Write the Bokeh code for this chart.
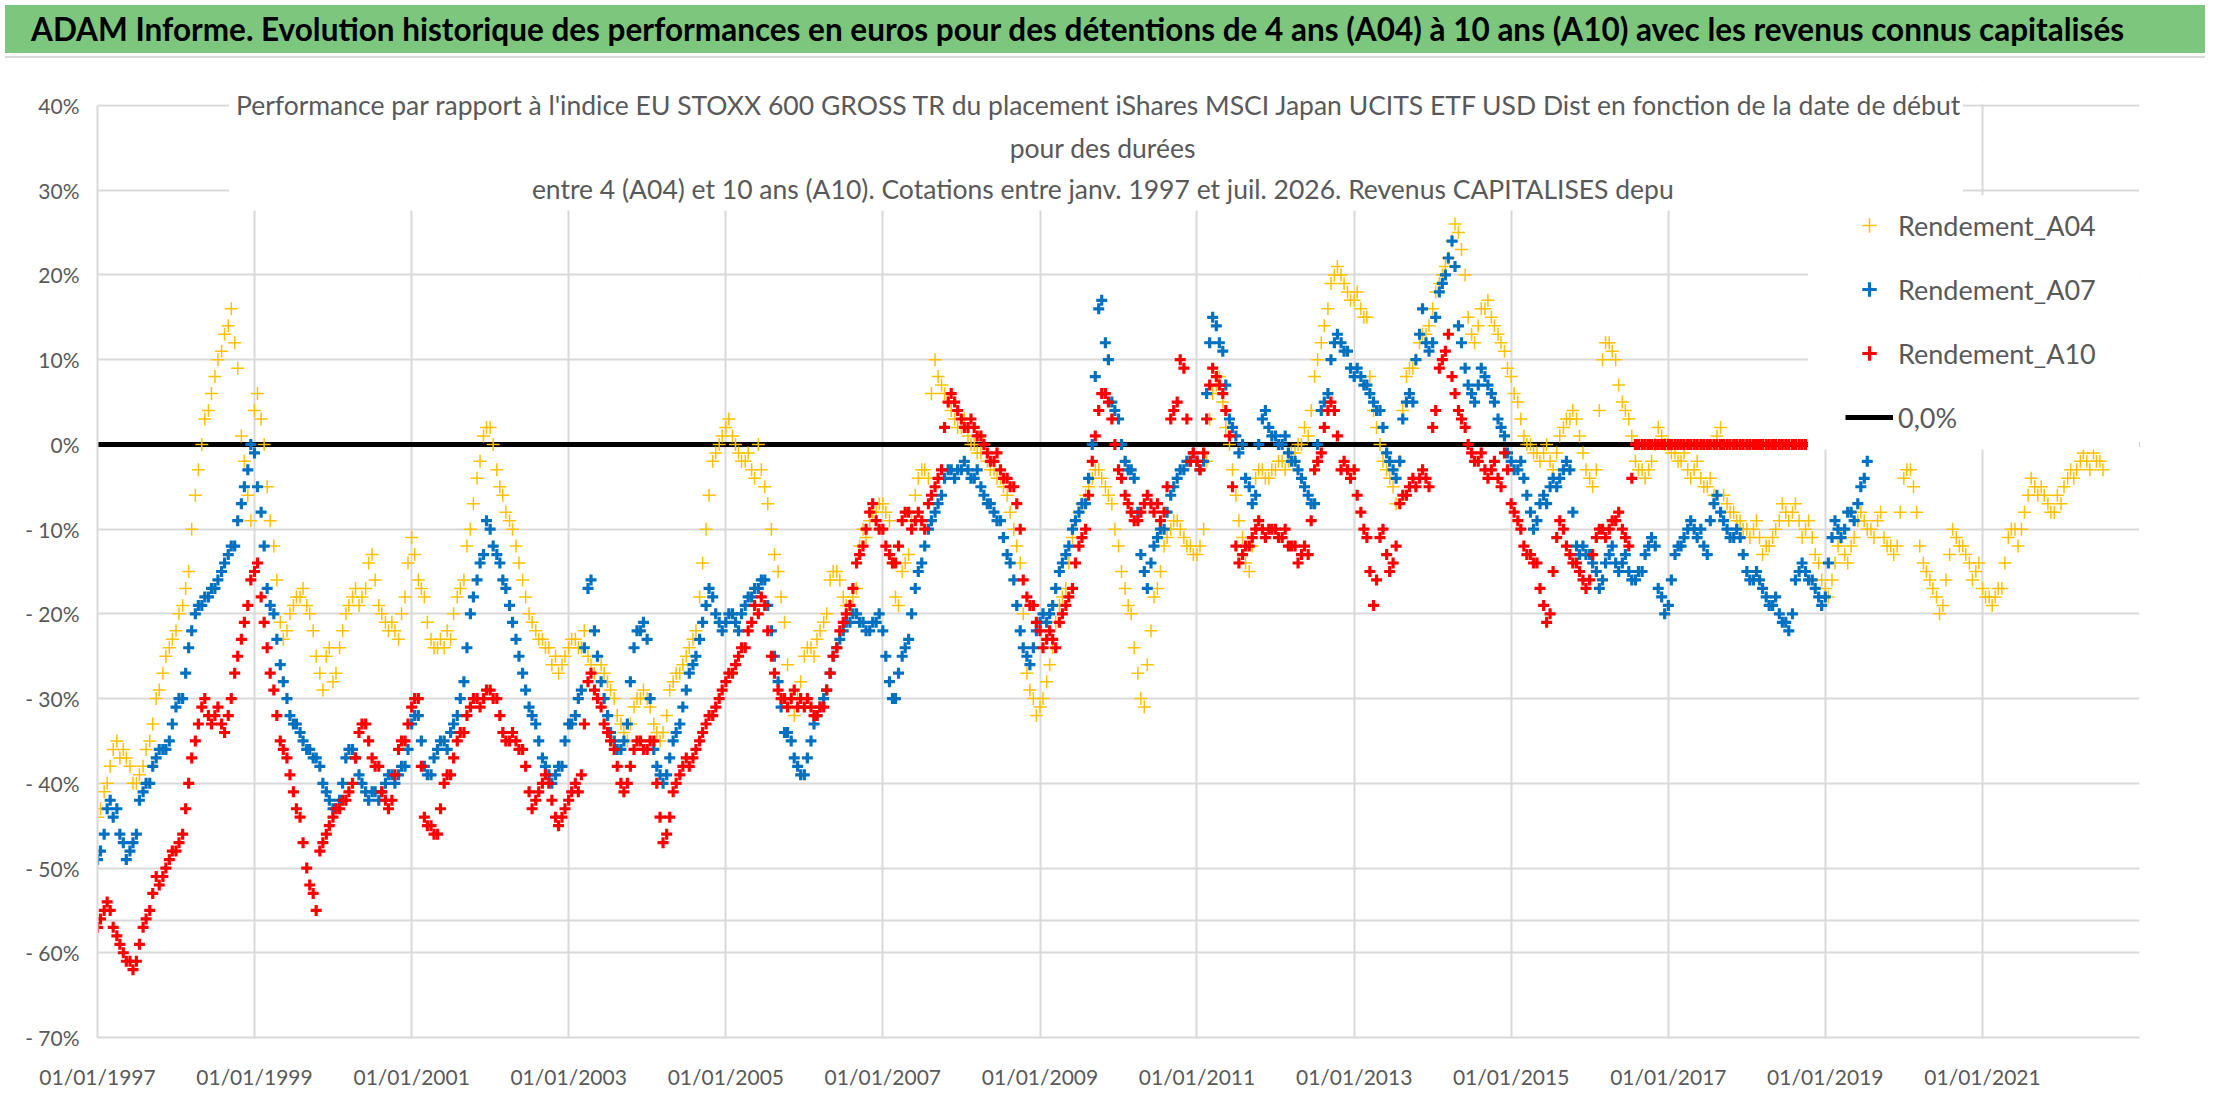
import pandas as pd
from bokeh.plotting import figure
from bokeh.layouts import column
from bokeh.models import (ColumnDataSource, Range1d, FixedTicker, DatetimeTickFormatter,
                          CustomJSTickFormatter, Legend, LegendItem, Label, BoxAnnotation,
                          Span, Div)
from bokeh.embed import file_html
from bokeh.resources import INLINE

main_title = ("ADAM Informe. Evolution historique des performances en euros pour des détentions "
              "de 4 ans (A04) à 10 ans (A10) avec les revenus connus capitalisés")
chart_title = [
    "Performance par rapport à l'indice EU STOXX 600 GROSS TR  du placement iShares MSCI Japan "
    "UCITS ETF USD Dist en fonction de la date de début",
    "pour des durées",
    "entre 4 (A04) et 10 ans (A10). Cotations entre janv. 1997 et juil. 2026. Revenus CAPITALISES depu",
]
series_names = ["Rendement_A04", "Rendement_A07", "Rendement_A10"]
zero_name = "0,0%"

# values in %, read twice a month: on the 1st (a04, ...) and on the 15th (a04_mid, ...)
first_month = "1997-01-01"
a04 = [
    -44, -41, -38, -35, -36, -38, -40, -38, -35, -30, -27, -24,   # 1997
    -22, -19, -15, -6, 0, 4, 8, 11, 14, 12, 1, -6,                # 1998
    4, 3, -5, -12, -21, -22, -19, -18, -19, -22, -27, -25,        # 1999
    -28, -24, -20, -18, -19, -17, -13, -19, -21, -21, -23, -18,   # 2000
    -11, -16, -18, -23, -24, -24, -23, -18, -16, -10, -4, 1,      # 2001
    2, -3, -6, -9, -12, -16, -20, -22, -23, -24, -25, -26,        # 2002
    -24, -23, -24, -25, -27, -26, -28, -30, -33, -35, -31, -30,   # 2003
    -30, -33, -35, -32, -28, -27, -25, -23, -18, -10, -2, 0,      # 2004
    2, 1, -1, -2, -3, 0, -5, -10, -15, -21, -30, -30,             # 2005
    -25, -24, -23, -21, -16, -15, -18, -19, -17, -10, -9, -8,     # 2006
    -7, -9, -18, -15, -13, -6, -3, -4, 10, 7, 5, 3,               # 2007
    2, 1, 0, -1, -2, -3, -4, -6, -10, -14, -27, -30,              # 2008
    -31, -28, -24, -19, -17, -11, -8, -6, -4, -3, -5, -7,         # 2009
    -12, -17, -20, -27, -31, -22, -17, -12, -10, -9, -11, -12,    # 2010
    -13, -10, 3, 7, 5, 0, -6, -11, -15, -4, -3, -4,               # 2011
    -3, -2, -2, -1, 0, 1, 8, 12, 16, 20, 20, 18,                  # 2012
    17, 16, 15, 4, 0, -3, -5, -2, 8, 9, 12, 13,                   # 2013
    16, 19, 21, 24, 25, 20, 13, 14, 16, 15, 13, 11,               # 2014
    8, 5, 1, 0, -1, -1, -2, -1, 2, 3, 3, -1,                      # 2015
    -4, -3, 10, 12, 10, 5, 3, -2, -3, -3, 0, 1,                   # 2016
    0, -1, -2, -3, -3, -4, -5, -6, 2, -7, -8, -9,                 # 2017
    -10, -10, -11, -12, -11, -9, -8, -8, -9, -10, -11, -14,       # 2018
    -17, -16, -12, -13, -12, -9, -9, -10, -9, -11, -12, -12,      # 2019
    -4, -3, -8, -14, -16, -18, -19, -13, -11, -12, -14, -15,      # 2020
    -17, -18, -18, -17, -11, -10, -10, -6, -5, -5, -7, -8,        # 2021
    -7, -4, -4, -2, -2, -1, -2,                                   # 2022
]
a04_mid = [
    -43, -40, -36, -37, -37, -40, -39, -36, -33, -29, -25, -23,   # 1997
    -20, -17, -10, -3, 3, 6, 10, 13, 16, 9, -2, -9,               # 1998
    6, 0, -9, -16, -23, -20, -18, -17, -20, -25, -29, -24,        # 1999
    -27, -22, -19, -17, -18, -14, -16, -20, -22, -22, -20, -14,   # 2000
    -13, -17, -21, -24, -23, -22, -20, -17, -12, -7, -2, 2,       # 2001
    0, -5, -8, -10, -14, -18, -21, -23, -24, -26, -27, -25,       # 2002
    -23, -24, -22, -26, -25, -27, -29, -32, -34, -33, -30, -29,   # 2003
    -31, -34, -34, -29, -27, -26, -24, -22, -14, -6, -1, 1,       # 2004
    3, 0, -2, -1, -4, -3, -7, -13, -18, -26, -32, -28,            # 2005
    -24, -25, -22, -20, -15, -16, -19, -18, -12, -11, -8, -7,     # 2006
    -8, -14, -19, -14, -9, -4, -3, 6, 8, 6, 4, 2,                 # 2007
    3, 0, -1, 0, -3, -4, -5, -8, -12, -20, -29, -32,              # 2008
    -30, -26, -21, -18, -14, -9, -7, -5, -3, -4, -6, -10,         # 2009
    -15, -19, -24, -30, -26, -18, -15, -11, -9, -10, -12, -13,    # 2010
    -12, -2, 6, 8, 2, -3, -9, -14, -12, -3, -4, -3,               # 2011
    -2, -3, -1, 0, 2, 4, 10, 14, 19, 21, 19, 17,                  # 2012
    18, 15, 8, 2, -2, -4, -7, 4, 9, 10, 13, 14,                   # 2013
    18, 20, 22, 26, 23, 15, 12, 16, 17, 14, 12, 9,                # 2014
    6, 3, 0, -1, -2, 0, -3, 1, 3, 4, 1, -3,                       # 2015
    -5, 4, 12, 11, 7, 4, 1, -3, -4, -2, 2, 0,                     # 2016
    -1, -2, -1, -4, -2, -5, -4, 1, -6, -8, -9, -10,               # 2017
    -11, -9, -13, -12, -10, -7, -9, -7, -11, -9, -13, -16,        # 2018
    -18, -14, -11, -14, -11, -8, -10, -11, -8, -12, -13, -8,      # 2019
    -3, -5, -12, -15, -17, -20, -16, -10, -12, -13, -16, -14,     # 2020
    -18, -19, -17, -14, -10, -12, -8, -4, -6, -6, -8, -6,         # 2021
    -5, -3, -3, -1, -3, -2, -3,                                   # 2022
]
a07 = [
    -49, -46, -42, -43, -47, -48, -46, -41, -40, -37, -36, -35,   # 1997
    -31, -30, -24, -20, -19, -18, -17, -15, -13, -12, -7, -3,     # 1998
    -1, -8, -17, -20, -26, -30, -33, -34, -36, -37, -38, -41,     # 1999
    -43, -42, -37, -36, -39, -41, -41, -42, -40, -39, -39, -38,   # 2000
    -33, -32, -38, -39, -36, -35, -34, -32, -28, -20, -16, -13,   # 2001
    -10, -13, -16, -19, -23, -27, -31, -33, -37, -39, -39, -38,   # 2002
    -33, -32, -29, -17, -22, -28, -32, -35, -36, -33, -24, -22,   # 2003
    -23, -36, -39, -39, -35, -33, -29, -26, -23, -19, -18, -21,   # 2004
    -21, -20, -22, -19, -18, -17, -16, -22, -28, -34, -35, -38,   # 2005
    -39, -35, -32, -30, -27, -24, -22, -21, -20, -21, -22, -21,   # 2006
    -22, -28, -30, -25, -23, -17, -14, -10, -8, -6, -3, -4,       # 2007
    -3, -3, -4, -5, -7, -8, -9, -13, -16, -22, -25, -24,          # 2008
    -21, -21, -19, -15, -13, -10, -8, -7, 0, 16, 12, 5,           # 2009
    3, -2, -3, -8, -15, -14, -11, -10, -6, -4, -3, -2,            # 2010
    -2, -2, 12, 14, 11, 3, 1, 0, -5, -6, 3, 2,                    # 2011
    1, 0, -1, -2, -4, -6, -7, 4, 6, 12, 12, 11,                   # 2012
    8, 8, 7, 5, 4, -1, -3, -2, 5, 5, 13, 12,                      # 2013
    12, 18, 20, 24, 14, 9, 6, 7, 8, 6, 3, 1,                      # 2014
    -2, -3, -4, -8, -9, -6, -5, -5, -3, -3, -12, -12,             # 2015
    -13, -15, -16, -13, -14, -14, -15, -16, -15, -12, -12, -18,   # 2016
    -19, -13, -12, -10, -10, -10, -13, -7, -8, -10, -11, -11,     # 2017
    -15, -16, -16, -18, -19, -20, -21, -20, -15, -15, -16, -18,   # 2018
    -18, -11, -10, -10, -8, -7, -4,                               # 2019
]
a07_mid = [
    -48, -43, -44, -46, -49, -47, -42, -40, -38, -36, -36, -33,   # 1997
    -30, -27, -22, -19, -18, -17, -16, -14, -12, -9, -5, 0,       # 1998
    -5, -12, -19, -23, -28, -32, -33, -35, -36, -37, -40, -42,    # 1999
    -43, -40, -36, -37, -40, -42, -41, -41, -39, -40, -38, -36,   # 2000
    -32, -35, -39, -37, -35, -36, -33, -30, -24, -18, -14, -9,    # 2001
    -12, -14, -17, -21, -25, -29, -32, -35, -38, -40, -38, -35,   # 2002
    -33, -30, -24, -16, -25, -30, -34, -36, -35, -28, -22, -21,   # 2003
    -30, -38, -40, -37, -34, -31, -27, -25, -21, -17, -20, -22,   # 2004
    -20, -21, -20, -18, -17, -16, -19, -25, -31, -34, -37, -39,   # 2005
    -37, -33, -31, -29, -25, -23, -21, -20, -21, -22, -21, -20,   # 2006
    -25, -30, -27, -24, -20, -15, -12, -9, -7, -4, -3, -3,        # 2007
    -2, -4, -3, -6, -7, -9, -11, -14, -19, -24, -26, -22,         # 2008
    -20, -20, -17, -14, -12, -9, -7, -4, 8, 17, 10, 4,            # 2009
    0, -3, -4, -13, -17, -12, -10, -8, -5, -3, -2, -1,            # 2010
    -3, 6, 15, 12, 7, 2, -1, -4, -7, 0, 4, 1,                     # 2011
    0, 1, -2, -3, -5, -7, 0, 5, 10, 13, 11, 9,                    # 2012
    9, 7, 6, 4, 2, -2, -4, 3, 6, 10, 16, 11,                      # 2013
    15, 19, 22, 21, 12, 7, 5, 9, 7, 5, 2, -1,                     # 2014
    -3, -2, -6, -10, -7, -7, -4, -4, -2, -8, -13, -13,            # 2015
    -14, -17, -14, -12, -15, -13, -16, -15, -13, -11, -17, -20,   # 2016
    -16, -12, -11, -9, -11, -12, -9, -6, -9, -11, -10, -13,       # 2017
    -16, -15, -17, -19, -18, -21, -22, -16, -14, -16, -17, -19,   # 2018
    -14, -9, -11, -8, -9, -5, -2,                                 # 2019
]
a10 = [
    -57, -55, -55, -58, -60, -61, -61, -57, -55, -51, -51, -49,   # 1997
    -48, -46, -40, -35, -31, -32, -32, -33, -32, -27, -23, -19,   # 1998
    -15, -18, -24, -29, -35, -37, -41, -44, -50, -53, -48, -46,   # 1999
    -44, -43, -42, -40, -34, -33, -37, -38, -42, -42, -36, -35,   # 2000
    -31, -30, -44, -45, -46, -40, -39, -35, -34, -31, -30, -30,   # 2001
    -29, -30, -34, -35, -35, -36, -41, -42, -40, -40, -44, -44,   # 2002
    -42, -40, -39, -28, -29, -31, -34, -36, -40, -40, -36, -35,   # 2003
    -36, -35, -44, -46, -41, -39, -37, -37, -35, -33, -32, -30,   # 2004
    -28, -27, -25, -24, -21, -20, -19, -25, -29, -30, -30, -31,   # 2005
    -31, -31, -32, -31, -27, -24, -21, -19, -14, -12, -8, -9,     # 2006
    -10, -13, -14, -9, -8, -9, -9, -7, -5, -3, 5, 5,              # 2007
    3, 2, 2, 1, -1, -2, -3, -4, -5, -10, -18, -19,                # 2008
    -22, -23, -23, -21, -19, -17, -12, -10, -2, 4, 6, 3,          # 2009
    -3, -6, -8, -9, -7, -7, -7, -8, 3, 5, 9, -2,                  # 2010
    -2, -1, 7, 8, 6, 1, -12, -13, -12, -10, -10, -10,             # 2011
    -10, -11, -12, -12, -13, -13, -3, -1, 4, 4, -3, -3,           # 2012
    -3, -8, -11, -19, -11, -13, -14, -7, -6, -4, -4, -4,          # 2013
    2, 9, 11, 8, 4, 2, -1, -2, -3, -3, -4, -1,                    # 2014
    -7, -9, -12, -13, -14, -19, -20, -11, -10, -13, -14, -16,     # 2015
    -16, -11, -10, -10, -9, -10, -12, 0, 0, 0, 0, 0,              # 2016
    0, 0, 0, 0, 0, 0, 0, 0, 0, 0, 0, 0,                           # 2017
    0, 0, 0, 0, 0, 0, 0, 0, 0, 0,                                 # 2018
]
a10_mid = [
    -56, -54, -57, -59, -61, -62, -59, -56, -53, -52, -50, -48,   # 1997
    -47, -43, -37, -33, -30, -33, -31, -34, -30, -25, -21, -16,   # 1998
    -14, -21, -27, -32, -36, -39, -43, -47, -52, -55, -47, -45,   # 1999
    -43, -42, -41, -37, -33, -35, -38, -41, -43, -39, -35, -33,   # 2000
    -30, -38, -45, -46, -43, -39, -37, -34, -32, -30, -31, -29,   # 2001
    -30, -32, -35, -34, -36, -38, -43, -41, -39, -42, -45, -43,   # 2002
    -41, -41, -33, -27, -30, -33, -35, -38, -41, -38, -35, -36,   # 2003
    -35, -40, -47, -44, -40, -38, -38, -36, -34, -32, -31, -29,   # 2004
    -27, -26, -24, -22, -19, -18, -22, -27, -30, -31, -29, -30,   # 2005
    -30, -32, -31, -29, -25, -22, -20, -17, -13, -10, -7, -10,    # 2006
    -12, -14, -12, -8, -10, -8, -10, -6, -4, 2, 6, 4,             # 2007
    2, 3, 1, 0, -2, -1, -4, -5, -7, -16, -19, -21,                # 2008
    -24, -22, -24, -20, -18, -14, -11, -6, 1, 6, 5, 0,            # 2009
    -4, -7, -9, -8, -6, -8, -9, -5, 4, 10, 3, -1,                 # 2010
    -3, 3, 9, 7, 4, -5, -14, -12, -11, -9, -11, -10,              # 2011
    -11, -10, -12, -14, -12, -9, -2, 2, 5, 1, -2, -4,             # 2012
    -6, -10, -15, -16, -10, -15, -12, -6, -5, -5, -3, -5,         # 2013
    4, 10, 13, 6, 3, 0, -2, -1, -4, -2, -5, -3,                   # 2014
    -8, -10, -13, -14, -17, -21, -15, -9, -12, -14, -15, -17,     # 2015
    -13, -10, -11, -9, -8, -11, -4, 0, 0, 0, 0, 0,                # 2016
    0, 0, 0, 0, 0, 0, 0, 0, 0, 0, 0, 0,                           # 2017
    0, 0, 0, 0, 0, 0, 0, 0, 0,                                    # 2018
]
zero_dates = ["1997-01-01", "2023-01-01"]
zero_values = [0.0, 0.0]
extra_level = -56.2
tick_years = [1997, 1999, 2001, 2003, 2005, 2007, 2009, 2011, 2013, 2015, 2017, 2019, 2021]
y_ticks = [-70, -60, -50, -40, -30, -20, -10, 0, 10, 20, 30, 40]
colors = ["#FFC000", "#0070C0", "#FF0000"]

GREY_TXT = "#595959"
GRID = "#D9D9D9"
FONT = "Lato"


def ms(d):
    return pd.Timestamp(d).value / 1e6


def twice_monthly(first, mid):
    d1 = pd.date_range(first_month, periods=len(first), freq="MS")
    d2 = pd.date_range(first_month, periods=len(mid), freq="MS") + pd.Timedelta(days=14)
    return ColumnDataSource(data=dict(date=list(d1) + list(d2), value=list(first) + list(mid)))


x_start, x_end = "1997-01-01", "2023-01-01"

# the frame goes a little above 40 % so that the first title line is not cut
p = figure(width=2200, height=1033, x_axis_type="datetime",
           x_range=Range1d(ms(x_start), ms(x_end)), y_range=Range1d(-70, 42.95),
           output_backend="svg", toolbar_location=None,
           min_border_left=97, min_border_right=61, min_border_top=17, min_border_bottom=59)
p.outline_line_color = None
p.background_fill_color = "white"
p.border_fill_color = "white"

xt = FixedTicker(ticks=[ms(f"{y}-01-01") for y in tick_years])
yt = FixedTicker(ticks=y_ticks)
p.xaxis.ticker = xt
p.xgrid.ticker = xt
p.yaxis.ticker = yt
p.ygrid.ticker = yt
p.yaxis.bounds = (-70, 40)
p.xaxis.formatter = DatetimeTickFormatter(years="%d/%m/%Y", months="%d/%m/%Y", days="%d/%m/%Y")
p.yaxis.formatter = CustomJSTickFormatter(
    code="return tick < 0 ? '- ' + Math.abs(tick) + '%' : tick + '%';")

for ax in (p.xaxis, p.yaxis):
    ax.axis_line_color = GRID
    ax.axis_line_width = 2
    ax.major_tick_line_color = None
    ax.minor_tick_line_color = None
    ax.major_tick_out = 0
    ax.major_tick_in = 0
    ax.minor_tick_out = 0
    ax.major_label_text_color = GREY_TXT
    ax.major_label_text_font = FONT
    ax.major_label_text_font_size = "21px"
p.yaxis.major_label_standoff = 18
p.xaxis.major_label_standoff = 26

for g in (p.xgrid, p.ygrid):
    g.grid_line_color = GRID
    g.grid_line_width = 2

p.add_layout(Span(location=extra_level, dimension="width", line_color=GRID,
                  line_width=2, level="underlay"))

# zero line first, then the three series
zero = p.line(x=[ms(d) for d in zero_dates], y=zero_values, line_color="black", line_width=5)

renderers = []
for first, mid, col, lw, sz in ((a04, a04_mid, colors[0], 1.5, 13),
                                (a07, a07_mid, colors[1], 3.2, 11),
                                (a10, a10_mid, colors[2], 3.2, 11)):
    r = p.scatter(x="date", y="value", source=twice_monthly(first, mid), marker="cross",
                  size=sz, line_color=col, line_width=lw)
    renderers.append(r)

# white areas: above the 40 % line, behind the chart title, behind the legend
p.add_layout(BoxAnnotation(bottom=40.15, fill_color="white", fill_alpha=1, line_color=None))
p.add_layout(BoxAnnotation(left=ms("1998-09-05"), right=ms("2020-10-01"), bottom=27.6, top=45,
                           fill_color="white", fill_alpha=1, line_color=None))
p.add_layout(BoxAnnotation(left=ms("2018-10-12"), bottom=-0.6, top=29.4,
                           fill_color="white", fill_alpha=1, line_color=None))

title_x = ms("2009-10-20")
for txt, yv in zip(chart_title, (40.0, 35.0, 30.1)):
    p.add_layout(Label(x=title_x, y=yv, text=txt, text_align="center", text_baseline="middle",
                       text_font=FONT, text_font_size="26.5px", text_color=GREY_TXT))

legend = Legend(items=[LegendItem(label=series_names[0], renderers=[renderers[0]]),
                       LegendItem(label=series_names[1], renderers=[renderers[1]]),
                       LegendItem(label=series_names[2], renderers=[renderers[2]]),
                       LegendItem(label=zero_name, renderers=[zero])],
                location=(1748, 602), orientation="vertical",
                background_fill_alpha=0, border_line_color=None,
                padding=0, margin=0, spacing=28,
                glyph_width=48, glyph_height=36, label_height=36, label_width=200,
                label_standoff=5, label_text_font=FONT, label_text_font_size="27px",
                label_text_color=GREY_TXT)
p.add_layout(legend)

# green banner, then a thin grey rule under a small white gap
header = Div(text=main_title, width=2200, height=53,
             styles={"background-color": "#7DC67E", "background-clip": "content-box",
                     "font-family": FONT, "font-weight": "bold", "font-size": "31.5px",
                     "color": "black", "text-indent": "26px", "line-height": "48px",
                     "padding-bottom": "3px", "border-bottom": "2px solid #D9D9D9",
                     "white-space": "nowrap", "box-sizing": "border-box"})

page = column(header, p, spacing=0)
open("out.html", "w").write(file_html(page, INLINE))
